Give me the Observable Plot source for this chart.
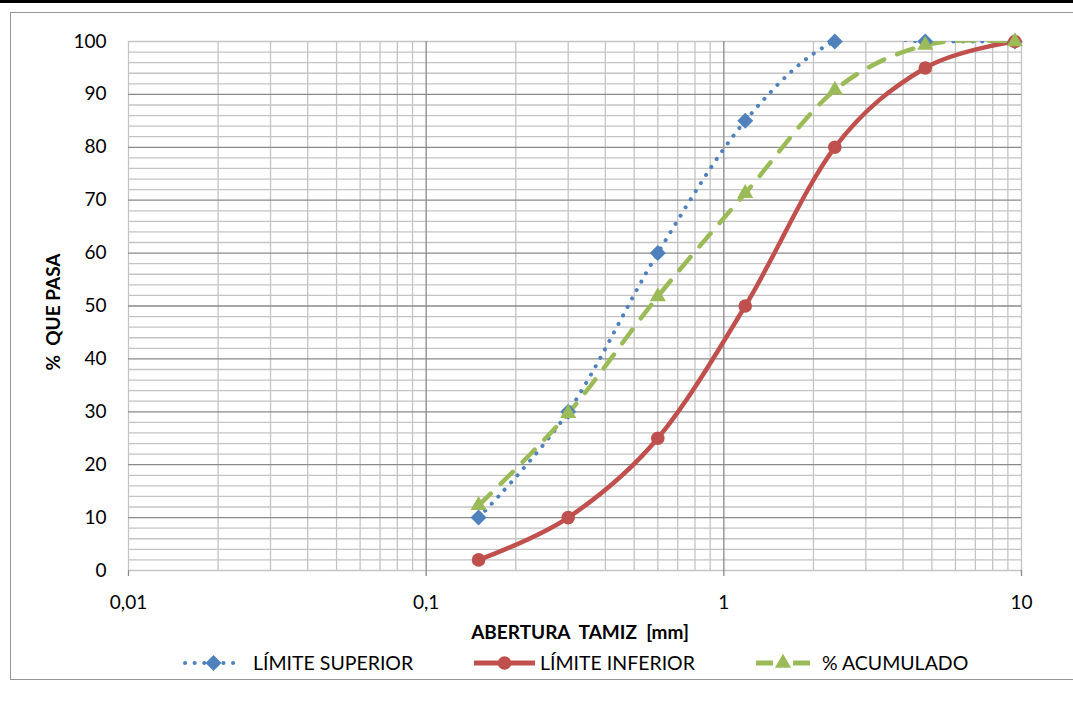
<!DOCTYPE html>
<html>
<head>
<meta charset="utf-8">
<script src="https://cdn.jsdelivr.net/npm/d3@7"></script>
<script src="https://cdn.jsdelivr.net/npm/@observablehq/plot@0.6"></script>
<style>
  html, body { margin: 0; padding: 0; background: #fff; overflow: hidden; }
  #wrap { position: relative; width: 1073px; height: 708px; font-family: Lato, "Open Sans", sans-serif; }
  #topbar { position: absolute; left: 0; top: 0; width: 1073px; height: 3px; background: #000; }
  #frame { position: absolute; left: 10px; top: 12px; width: 1100px; height: 668px; border: 1.5px solid #969696; box-sizing: border-box; }
  #chart { position: absolute; left: 0; top: 0; }
  #chart svg text { white-space: pre; }
  .legsample { position: absolute; top: 653px; display: block; }
  .legtext { position: absolute; top: 651px; height: 24px; line-height: 24px; font-size: 19.5px; color: #000; white-space: nowrap; }
</style>
</head>
<body>
<div id="wrap">
  <div id="topbar"></div>
  <div id="frame"></div>
  <div id="chart"></div>
</div>
<script>
// ---- data ----
const sieveSizes = [0.15, 0.3, 0.6, 1.18, 2.36, 4.75, 9.5];
const limiteSuperior = [10, 30, 60, 85, 100, 100, 100];
const limiteInferior = [2, 10, 25, 50, 80, 95, 100];
const acumulado = [12.3, 29.7, 51.8, 71.3, 90.8, 99.3, 100];
const seriesNames = ["LÍMITE SUPERIOR", "LÍMITE INFERIOR", "% ACUMULADO"];
const xTicks = [0.01, 0.1, 1, 10];
const xTickLabels = ["0,01", "0,1", "1", "10"];
const yTicks = [0, 10, 20, 30, 40, 50, 60, 70, 80, 90, 100];
const xTitle = "ABERTURA  TAMIZ  [mm]";
const yTitle = "%  QUE PASA";

const colors = { sup: "#4F81BD", inf: "#C0504D", acu: "#9BBB59" };

// grid positions
const decades = [0.01, 0.1, 1];
const minorX = decades.flatMap(d => [2, 3, 4, 5, 6, 7, 8, 9].map(k => k * d));
const minorY = d3.range(0, 101, 2).filter(v => v % 10 !== 0);
const majorY = yTicks.filter(v => v > 0 && v < 100);

const rows = sieveSizes.map((s, i) => ({
  size: s, sup: limiteSuperior[i], inf: limiteInferior[i], acu: acumulado[i]
}));

const light = "#c4c4c4", dark = "#8a8a8a";
const FS = 19;

const chart = Plot.plot({
  width: 1073,
  height: 650,
  marginLeft: 128,
  marginRight: 52,
  marginTop: 41,
  marginBottom: 80,
  style: { fontFamily: "Lato, 'Open Sans', sans-serif", fontSize: FS + "px", color: "#000", background: "transparent" },
  x: { type: "log", domain: [0.01, 10] },
  y: { domain: [0, 100] },
  marks: [
    Plot.ruleY(minorY, { stroke: light, strokeWidth: 1.3 }),
    Plot.ruleX(minorX, { stroke: light, strokeWidth: 1.3 }),
    Plot.ruleY([0, 100], { stroke: light, strokeWidth: 1.3 }),
    Plot.ruleX([0.01, 10], { stroke: light, strokeWidth: 1.3 }),
    Plot.ruleY(majorY, { stroke: dark, strokeWidth: 1.3 }),
    Plot.ruleX([0.1, 1], { stroke: dark, strokeWidth: 1.3 }),
    Plot.axisX({ ticks: xTicks, tickFormat: d => xTickLabels[xTicks.indexOf(d)], tickSize: 6, tickPadding: 19, stroke: dark, strokeWidth: 1.3, label: null, fontSize: FS }),
    Plot.axisY({ ticks: yTicks, tickSize: 0, tickPadding: 22, label: null, fontSize: FS }),
    Plot.line(rows, { x: "size", y: "sup", curve: "cardinal", tension: 0, stroke: colors.sup, strokeWidth: 4, strokeDasharray: "0.1 9.5", strokeLinecap: "round", clip: true }),
    Plot.line(rows, { x: "size", y: "inf", curve: "cardinal", tension: 0, stroke: colors.inf, strokeWidth: 4.5, clip: true }),
    Plot.line(rows, { x: "size", y: "acu", curve: "cardinal", tension: 0, stroke: colors.acu, strokeWidth: 4.5, strokeDasharray: "17 14", clip: true }),
    Plot.dot(rows, { x: "size", y: "sup", symbol: "diamond2", r: 7.2, fill: colors.sup }),
    Plot.dot(rows, { x: "size", y: "inf", symbol: "circle", r: 6.8, fill: colors.inf }),
    Plot.dot(rows, { x: "size", y: "acu", symbol: "triangle", r: 6, fill: colors.acu }),
    Plot.text([xTitle], { frameAnchor: "bottom", dy: 62, dx: 5, fontWeight: "bold", fontSize: FS, textAnchor: "middle", lineAnchor: "middle", fill: "#000" }),
    Plot.text([yTitle], { frameAnchor: "left", dx: -75, dy: 6, rotate: -90, fontWeight: "bold", fontSize: FS, textAnchor: "middle", lineAnchor: "middle", fill: "#000" })
  ]
});
document.getElementById("chart").appendChild(chart);

// ---- legend ----
const ns = "http://www.w3.org/2000/svg";
function sample(kind) {
  const svg = document.createElementNS(ns, "svg");
  svg.setAttribute("width", 64); svg.setAttribute("height", 20);
  const line = document.createElementNS(ns, "line");
  line.setAttribute("y1", 10); line.setAttribute("y2", 10);
  let marker;
  if (kind === "sup") {
    line.setAttribute("x1", 3); line.setAttribute("x2", 60);
    line.setAttribute("stroke", colors.sup); line.setAttribute("stroke-width", 4);
    line.setAttribute("stroke-dasharray", "0.1 9.5"); line.setAttribute("stroke-linecap", "round");
    marker = document.createElementNS(ns, "path");
    marker.setAttribute("d", d3.symbol(d3.symbolDiamond2, 7.2 * 7.2 * Math.PI)());
    marker.setAttribute("fill", colors.sup);
    marker.setAttribute("transform", "translate(31.5,10)");
  } else if (kind === "inf") {
    line.setAttribute("x1", 1); line.setAttribute("x2", 62);
    line.setAttribute("stroke", colors.inf); line.setAttribute("stroke-width", 5);
    marker = document.createElementNS(ns, "circle");
    marker.setAttribute("r", 6.8); marker.setAttribute("fill", colors.inf);
    marker.setAttribute("transform", "translate(31.5,10)");
  } else {
    line.setAttribute("x1", 2); line.setAttribute("x2", 56);
    line.setAttribute("stroke", colors.acu); line.setAttribute("stroke-width", 5);
    line.setAttribute("stroke-dasharray", "17 20");
    marker = document.createElementNS(ns, "path");
    marker.setAttribute("d", d3.symbol(d3.symbolTriangle, 6 * 6 * Math.PI)());
    marker.setAttribute("fill", colors.acu);
    marker.setAttribute("transform", "translate(29,10)");
  }
  svg.appendChild(line); svg.appendChild(marker);
  return svg;
}
const sampleLeft = [182, 473, 754];
const textLeft = [253, 540, 822];
["sup", "inf", "acu"].forEach((k, i) => {
  const s = sample(k);
  s.setAttribute("class", "legsample");
  s.style.left = sampleLeft[i] + "px";
  document.getElementById("wrap").appendChild(s);
  const span = document.createElement("div");
  span.className = "legtext";
  span.style.left = textLeft[i] + "px";
  span.textContent = seriesNames[i];
  document.getElementById("wrap").appendChild(span);
});
</script>
</body>
</html>
